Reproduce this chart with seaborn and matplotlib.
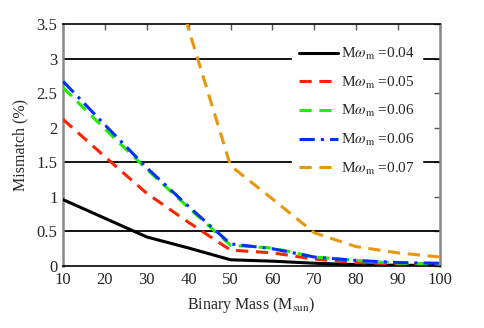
import matplotlib
matplotlib.use("Agg")
import matplotlib.pyplot as plt
import seaborn as sns
import pandas as pd

mass = [10, 20, 30, 40, 50, 60, 70, 80, 90, 100]
mm_004 = [0.96, 0.69, 0.42, 0.26, 0.09, 0.07, 0.04, 0.02, 0.01, 0.01]
mm_005 = [2.12, 1.58, 1.05, 0.63, 0.23, 0.19, 0.10, 0.05, 0.03, 0.03]
mm_006a = [2.58, 1.98, 1.40, 0.84, 0.30, 0.26, 0.13, 0.08, 0.04, 0.03]
mm_006b = [2.67, 2.04, 1.42, 0.86, 0.32, 0.25, 0.13, 0.08, 0.05, 0.04]
mm_007 = [10.0, 8.0, 6.0, 3.42, 1.45, 0.97, 0.48, 0.28, 0.19, 0.13]
labels = [r"M$\omega_{\rm m}$ =0.04", r"M$\omega_{\rm m}$ =0.05", r"M$\omega_{\rm m}$ =0.06",
          r"M$\omega_{\rm m}$ =0.06", r"M$\omega_{\rm m}$ =0.07"]
ref_levels = [0.5, 1.5, 3.0]
xticks = [10, 20, 30, 40, 50, 60, 70, 80, 90, 100]
yticks = [0, 0.5, 1, 1.5, 2, 2.5, 3, 3.5]

sns.set_style("white")
plt.rcParams["font.family"] = ["Liberation Serif", "DejaVu Serif"]
plt.rcParams["mathtext.fontset"] = "stix"

fig = plt.figure(figsize=(4.85, 3.28), dpi=100)
ax = fig.add_axes([0.130, 0.189, 0.777, 0.738])

for lv in ref_levels:
    ax.axhline(lv, color="black", lw=1.3, zorder=1)

series = [mm_004, mm_005, mm_006a, mm_006b, mm_007]
colors = ["black", "#ff2200", "#22ee00", "#0030ff", "#e8960c"]
styles = ["-", (0, (4, 2.5)), (0, (4, 2.5)), (0, (5, 2, 1, 2)), (0, (4, 2.5))]
for vals, lab, c, ls in zip(series, labels, colors, styles):
    df = pd.DataFrame({"mass": mass, "mm": vals})
    sns.lineplot(data=df, x="mass", y="mm", ax=ax, color=c, lw=2.2,
                 linestyle=ls, label=lab, zorder=3)

ax.set_xlim(10, 100)
ax.set_ylim(0, 3.5)
ax.set_xticks(xticks)
ax.set_yticks(yticks)
ax.set_xticklabels([str(t) for t in xticks])
ax.set_yticklabels(["0", "0.5", "1", "1.5", "2", "2.5", "3", "3.5"])
ax.tick_params(direction="in", labelsize=12, length=4, width=1, top=True, right=True,
               color="#555555", pad=4)
ax.set_xlabel(r"Binary Mass (M$_{\rm sun}$)", fontsize=11.5, labelpad=5)
ax.set_ylabel("Mismatch (%)", fontsize=11.5, labelpad=6)

for side in ["top", "bottom"]:
    ax.spines[side].set_color("black")
    ax.spines[side].set_linewidth(1.2)
for side in ["left", "right"]:
    ax.spines[side].set_color("#888888")
    ax.spines[side].set_linewidth(1.8)

leg = ax.legend(loc="upper left", bbox_to_anchor=(0.607, 0.94), borderaxespad=0,
                frameon=True, fontsize=11, handlelength=2.5, handletextpad=0.2,
                labelspacing=0.82, borderpad=0.5, fancybox=False)
leg.get_frame().set_facecolor("white")
leg.get_frame().set_edgecolor("white")
leg.get_frame().set_alpha(1.0)
leg.set_zorder(5)

fig.savefig("out.png", dpi=100)
